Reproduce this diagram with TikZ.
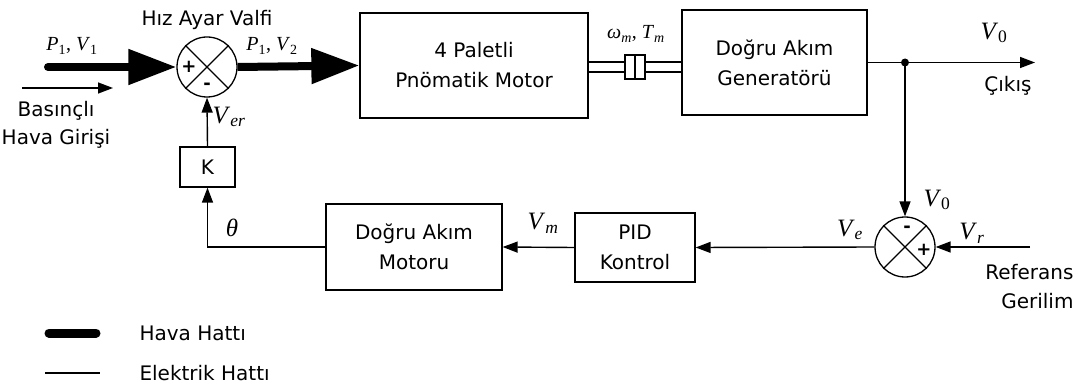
\documentclass[tikz,border=0pt]{standalone}
\usepackage{fontspec}
\setmainfont{DejaVu Sans}
\newfontfamily\serifyazi{Liberation Serif}
\usetikzlibrary{positioning,arrows.meta,calc}
\newcommand{\ds}[2]{\textit{#1}\textsubscript{#2}}
\tikzset{
  blok/.style={draw, line width=1.3pt, fill=white, align=center,
               font=\fontsize{20}{30}\selectfont},
  topla/.style={draw, circle, line width=1.3pt, minimum size=60pt, inner sep=0pt},
  hava/.style={line width=8pt, -{Triangle[length=48pt,width=34pt]}},
  elek/.style={line width=1.4pt, -{Triangle[length=15pt,width=11pt]}},
  ince/.style={line width=1.3pt},
  etiket/.style={font=\fontsize{20}{28}\selectfont, align=center},
  isaret/.style={font=\fontsize{18}{18}\selectfont\bfseries, inner sep=0pt},
  pmat/.style={font=\serifyazi\fontsize{20}{20}\selectfont, inner sep=0pt},
  vmat/.style={font=\serifyazi\fontsize{25}{25}\selectfont, inner sep=0pt},
}

\begin{document}
\begin{tikzpicture}[x=1pt, y=-1pt]
  \useasboundingbox (0,0) rectangle (1078,387);
  % bloklar
  \node[topla] (valf) at (207,67) {};
  \node[blok, minimum width=228pt, minimum height=105pt] (pmotor) at (474,65.5) {4 Paletli\\Pnömatik Motor};
  \node[blok, minimum width=185pt, minimum height=105pt] (gen) at (774.5,62.5) {Doğru Akım\\Generatörü};
  \node[blok, minimum width=176pt, minimum height=86pt] (dmotor) at (414,247) {Doğru Akım\\Motoru};
  \node[blok, minimum width=120pt, minimum height=69pt] (pid) at (635,247.5) {PID\\Kontrol};
  \node[blok, minimum width=55pt, minimum height=40pt] (k) at (207.5,167) {K};
  \node[topla] (fark) at (905,247) {};
  \draw[ince] (valf.north west) -- (valf.south east) (valf.north east) -- (valf.south west);
  \draw[ince] (fark.north west) -- (fark.south east) (fark.north east) -- (fark.south west);
  \node[isaret] at (189,67) {+};
  \node[isaret] at (207,86) {-};
  \node[isaret] at (907,229) {-};
  \node[isaret] at (924,250) {+};
  % mil ve kavrama
  \coordinate (m1) at (635,62);
  \coordinate (m2) at (635,72);
  \draw[ince] (pmotor.east |- m1) -- (gen.west |- m1);
  \draw[ince] (pmotor.east |- m2) -- (gen.west |- m2);
  \node[blok, minimum width=20pt, minimum height=24pt, inner sep=0pt] (kavrama) at (635,67) {};
  \draw[ince] (kavrama.north) -- (kavrama.south);
  % hava hatti
  \coordinate (giris) at (48,67);
  \draw[hava, line cap=round] (giris) -- (valf.west);
  \draw[hava] (valf.east) -- (pmotor.west);
  \coordinate (h1) at (22,88);
  \coordinate (h2) at (113,88);
  \draw[elek] (h1) -- (h2);
  % elektrik hatti
  \coordinate (dugum) at (gen.east -| fark);
  \coordinate (cikis) at (1035,62.5);
  \coordinate (ref) at (1030,247);
  \draw[elek] (gen.east) -- (cikis);
  \fill (dugum) circle (4pt);
  \draw[elek] (dugum) -- (fark.north);
  \draw[elek] (ref) -- (fark.east);
  \draw[elek] (fark.west) -- (pid.east);
  \draw[elek] (pid.west) -- (dmotor.east);
  \draw[elek] (dmotor.west) -| (k.south);
  \draw[elek] (k.north) -- (valf.south);
  % etiketler
  \node[etiket] at (207,20) {Hız Ayar Valfi};
  \node[etiket] at (56,125) {Basınçlı\\Hava Girişi};
  \node[pmat] at (72,46) {\ds{P}{1}, \ds{V}{1}};
  \node[pmat] at (272,46) {\ds{P}{1}, \ds{V}{2}};
  \node[pmat] at (636,34) {\ds{ω}{\textit{m}}, \ds{T}{\textit{m}}};
  \node[vmat] at (229,117) {\ds{V}{\textit{er}}};
  \node[vmat] at (994,33) {\ds{V}{0}};
  \node[etiket] at (1008,86) {Çıkış};
  \node[vmat] at (937,200) {\ds{V}{0}};
  \node[vmat] at (972,233) {\ds{V}{\textit{r}}};
  \node[vmat] at (850,230) {\ds{V}{\textit{e}}};
  \node[vmat] at (543,223) {\ds{V}{\textit{m}}};
  \node[vmat] at (232,228) {\textit{θ}};
  \node[etiket, anchor=east] at (1077,272) {Referans};
  \node[etiket, anchor=east] at (1077,301) {Gerilim};
  % lejant
  \draw[line width=9pt, line cap=round] (49,333) -- (96,333);
  \draw[ince] (45,373) -- (100,373);
  \node[etiket, anchor=west] at (136,333) {Hava Hattı};
  \node[etiket, anchor=west] at (136,373) {Elektrik Hattı};
\end{tikzpicture}
\end{document}
